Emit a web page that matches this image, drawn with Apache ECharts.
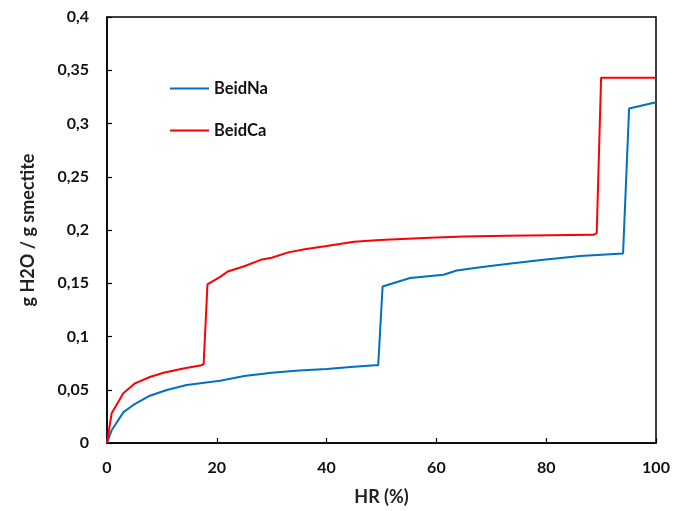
<!DOCTYPE html>
<html>
<head>
<meta charset="utf-8">
<script src="https://cdn.jsdelivr.net/npm/echarts@6/dist/echarts.min.js"></script>
<style>html,body{margin:0;padding:0;background:#fff;}#c{width:673px;height:511px;}</style>
</head>
<body>
<div id="c"></div>
<script>
var naX = [0, 0.85, 3, 4.8, 7.8, 10.9, 14.5, 20.6, 25, 30, 35, 40, 45, 48.8, 49.4, 50.2, 55.2, 61.3, 63.7, 68, 72.8, 79.5, 86.2, 94.0, 94.3, 95.1, 100];
var naY = [0, 0.012, 0.029, 0.0357, 0.0444, 0.0498, 0.0545, 0.0585, 0.063, 0.066, 0.068, 0.0695, 0.0715, 0.073, 0.073, 0.147, 0.155, 0.158, 0.162, 0.165, 0.168, 0.172, 0.1756, 0.178, 0.179, 0.314, 0.320];
var caX = [0, 0.85, 2.97, 5.1, 7.8, 10.3, 13.9, 17.2, 17.6, 18.3, 20.6, 22, 25, 28, 30, 33, 36, 40, 45, 49.7, 58.8, 64.9, 72.8, 88.6, 89.2, 90.0, 100];
var caY = [0, 0.028, 0.0467, 0.056, 0.062, 0.066, 0.070, 0.073, 0.074, 0.149, 0.156, 0.161, 0.166, 0.172, 0.174, 0.179, 0.182, 0.185, 0.189, 0.1906, 0.1928, 0.194, 0.1947, 0.1955, 0.197, 0.343, 0.343];
var seriesNames = ['BeidNa', 'BeidCa'];
var xTitle = 'HR (%)';
var yTitle = 'g H2O / g smectite';

function pairs(xs, ys) { return xs.map(function (x, i) { return [x, ys[i]]; }); }
var FONT = 'Lato';
var chart = echarts.init(document.getElementById('c'));
chart.setOption({
  animation: false,
  backgroundColor: '#fff',
  grid: { left: 107, right: 17, top: 17, bottom: 68, containLabel: false, show: true, borderColor: '#000', borderWidth: 1.5 },
  legend: {
    orient: 'vertical', left: 165, top: 75, itemWidth: 39, itemHeight: 14, itemGap: 25,
    icon: 'path://M0,0 L38,0 L38,2 L0,2 Z',
    textStyle: { fontFamily: FONT, fontWeight: 'bold', fontSize: 16.5, color: '#111' },
    data: seriesNames
  },
  xAxis: {
    type: 'value', min: 0, max: 100, interval: 20,
    name: xTitle, nameLocation: 'middle', nameGap: 45,
    nameTextStyle: { fontFamily: FONT, fontWeight: 'bold', fontSize: 18, color: '#222' },
    axisLine: { lineStyle: { color: '#000', width: 1.5 } },
    axisTick: { inside: true, length: 5, lineStyle: { color: '#000', width: 1.2 } },
    axisLabel: { margin: 17, fontFamily: FONT, fontWeight: 'bold', fontSize: 16, color: '#111' },
    splitLine: { show: false }
  },
  yAxis: {
    type: 'value', min: 0, max: 0.4, interval: 0.05,
    name: yTitle, nameLocation: 'middle', nameGap: 70, nameRotate: 90,
    nameTextStyle: { fontFamily: FONT, fontWeight: 'bold', fontSize: 18, color: '#222' },
    axisLine: { lineStyle: { color: '#000', width: 1.5 } },
    axisTick: { inside: true, length: 5, lineStyle: { color: '#000', width: 1.2 } },
    axisLabel: { margin: 18, fontFamily: FONT, fontWeight: 'bold', fontSize: 16, color: '#111',
      formatter: function (v) { return String(Math.round(v * 100) / 100).replace('.', ','); } },
    splitLine: { show: false }
  },
  series: [
    { name: seriesNames[0], type: 'line', data: pairs(naX, naY), symbol: 'none', lineStyle: { color: '#0070C0', width: 2 }, itemStyle: { color: '#0070C0' } },
    { name: seriesNames[1], type: 'line', data: pairs(caX, caY), symbol: 'none', lineStyle: { color: '#FF0000', width: 2 }, itemStyle: { color: '#FF0000' } }
  ]
});
</script>
</body>
</html>
